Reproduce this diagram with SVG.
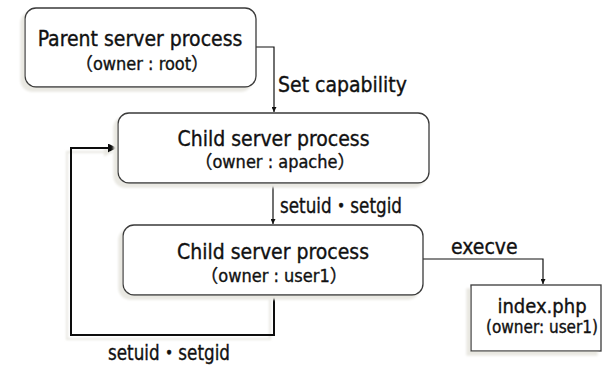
<svg xmlns="http://www.w3.org/2000/svg" width="602" height="366" viewBox="0 0 602 366">
<defs>
<filter id="sh" x="-10%" y="-10%" width="120%" height="130%">
<feFlood flood-color="#e9e8e2" result="c"/>
<feComposite in="c" in2="SourceAlpha" operator="in" result="s"/>
<feOffset in="s" dx="-4" dy="4" result="o"/>
<feGaussianBlur in="o" stdDeviation="0.8" result="b"/>
<feMerge><feMergeNode in="b"/><feMergeNode in="SourceGraphic"/></feMerge>
</filter>
<marker id="as" viewBox="0 0 10 10" refX="10" refY="5" markerWidth="5" markerHeight="5" markerUnits="userSpaceOnUse" orient="auto"><path d="M0,0L10,5L0,10z" fill="#111"/></marker>
<marker id="al" viewBox="0 0 10 10" refX="10" refY="5" markerWidth="9" markerHeight="9" markerUnits="userSpaceOnUse" orient="auto"><path d="M0,0L10,5L0,10z" fill="#111"/></marker>
</defs>
<style>
.box{fill:#fff;stroke:#3a3a3a;stroke-width:1.3}
text{font-family:"DejaVu Sans Condensed","DejaVu Sans","Noto Sans CJK JP",sans-serif;font-stretch:condensed;fill:#111;stroke:#111;stroke-width:0.35}
.t1{font-size:21px;text-anchor:middle}
.t2{font-size:18px;text-anchor:middle}
.t3{font-size:17px;text-anchor:middle}
.lbl{font-size:21px}
.ln{fill:none;stroke:#111;stroke-width:1.2}
.lnb{fill:none;stroke:#111;stroke-width:2}
</style>
<g id="connectors">
<path class="ln" d="M256,47H274V112" marker-end="url(#as)"/>
<path class="ln" d="M273,183V224" marker-end="url(#as)"/>
<path class="ln" d="M423,259H543V284" marker-end="url(#as)"/>
<path class="lnb" d="M274,295V335H71V148H117" marker-end="url(#al)" filter="url(#sh)"/>
<text class="lbl" x="278" y="92">Set capability</text>
<text class="lbl" x="280" y="213" textLength="122" lengthAdjust="spacingAndGlyphs">setuid・setgid</text>
<text class="lbl" x="451" y="254">execve</text>
<text class="lbl" x="108" y="360" textLength="122" lengthAdjust="spacingAndGlyphs">setuid・setgid</text>
</g>
<g id="parent">
<rect class="box" x="25" y="8" width="231" height="79" rx="11" filter="url(#sh)"/>
<text class="t1" x="140" y="46">Parent server process</text>
<text class="t2" x="142" y="70">（owner : root）</text>
</g>
<g id="child1">
<rect class="box" x="118" y="113" width="311" height="70" rx="11" filter="url(#sh)"/>
<text class="t1" x="273.5" y="146">Child server process</text>
<text class="t2" x="275" y="168">（owner : apache）</text>
</g>
<g id="child2">
<rect class="box" x="123" y="225" width="300" height="70" rx="11" filter="url(#sh)"/>
<text class="t1" x="273" y="259">Child server process</text>
<text class="t2" x="274" y="282">（owner : user1）</text>
</g>
<g id="index">
<rect class="box" x="471" y="285" width="130" height="66" filter="url(#sh)"/>
<text class="t1" x="542" y="313" style="font-size:20px">index.php</text>
<text class="t3" x="542" y="333">(owner: user1)</text>
</g>
</svg>
